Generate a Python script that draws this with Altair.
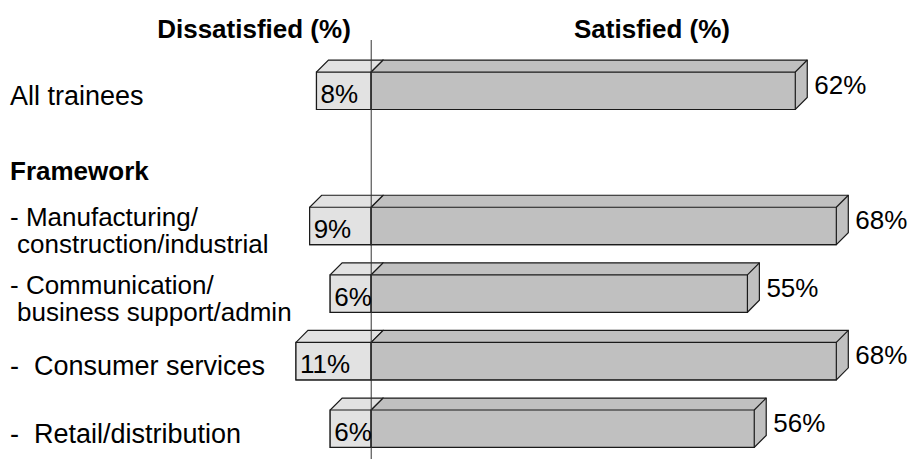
import altair as alt
import pandas as pd

# ---- data -------------------------------------------------------------
categories = [
    "All trainees",
    "- Manufacturing/\nconstruction/industrial",
    "- Communication/\nbusiness support/admin",
    "-\u00a0\u00a0Consumer services",
    "-\u00a0\u00a0Retail/distribution",
]
rows = [0, 2, 3, 4, 5]           # row slot of each bar (slot 1 holds the group heading)
dissatisfied = [8, 9, 6, 11, 6]
satisfied = [62, 68, 55, 68, 56]
group_heading = "Framework"
group_row = 1
headers = ["Dissatisfied (%)", "Satisfied (%)"]

# ---- geometry / style -------------------------------------------------
W, H = 910, 459
FONT = "Liberation Sans"
HALF = 0.277      # half the front-face thickness, in row units
DX = 1.75         # box depth along x, in percent units
DY = 0.1775       # box depth along y, in row units
EDGE = "#1a1a1a"
LIGHT = "#e2e2e2"
DARK = "#c0c0c0"

x_scale = alt.Scale(domain=[-54.27, 78.77], nice=False, zero=False)
y_scale = alt.Scale(domain=[-1.3425, 5.4475], nice=False, zero=False, reverse=True)


def X(field):
    return alt.X(field, scale=x_scale, axis=None)


def Y(field):
    return alt.Y(field, scale=y_scale, axis=None, stack=None)


def boxes(lefts, rights):
    """Silhouette points, front faces and top-right edges of 3-D bars."""
    hexa, front, edge = [], [], []
    for i, (r, a, b) in enumerate(zip(rows, lefts, rights)):
        top, bot = r - HALF, r + HALF
        # silhouette of the box, traced left to right: lower and upper edge
        for x, y, y2 in [
            (a, bot, top),
            (a + DX, bot, top - DY),
            (b, bot, top - DY),
            (b + DX, bot - DY, top - DY),
        ]:
            hexa.append({"box": i, "x": x, "y": y, "y2": y2})
        front.append({"x": a, "x2": b, "y": top, "y2": bot})
        edge.append({"x": b, "x2": b + DX, "y": top, "y2": top - DY})
    return pd.DataFrame(hexa), pd.DataFrame(front), pd.DataFrame(edge)


def box_layers(lefts, rights, fill):
    hexa, front, edge = boxes(lefts, rights)
    shell = alt.Chart(hexa).mark_area(
        fill=fill, stroke=EDGE, strokeWidth=1.2, interpolate="linear", opacity=1
    ).encode(
        x=X("x:Q"), y=Y("y:Q"), y2="y2:Q", detail="box:N",
    )
    face = alt.Chart(front).mark_rect(fill=fill, stroke=EDGE, strokeWidth=1.2).encode(
        x=X("x:Q"), x2="x2:Q", y=Y("y:Q"), y2="y2:Q",
    )
    ridge = alt.Chart(edge).mark_rule(color=EDGE, strokeWidth=1.2).encode(
        x=X("x:Q"), x2="x2:Q", y=Y("y:Q"), y2="y2:Q",
    )
    return [shell, face, ridge]


neg = [-v for v in dissatisfied]
zeros = [0] * len(rows)

table = pd.DataFrame({"row": rows, "dis": dissatisfied, "sat": satisfied, "neg": neg})
table["dis_label"] = table["dis"].astype(str) + "%"
table["sat_label"] = table["sat"].astype(str) + "%"
split = [c.split("\n") for c in categories]
table["line1"] = [s[0] for s in split]
table["line2"] = [s[1] if len(s) > 1 else "" for s in split]
single = table[table["line2"] == ""]
double = table[table["line2"] != ""]

dis_text = alt.Chart(table).mark_text(
    align="left", baseline="middle", dx=4, dy=4, fontSize=26, font=FONT, color="#000"
).encode(x=X("neg:Q"), y=Y("row:Q"), text="dis_label:N")

sat_text = alt.Chart(table).mark_text(
    align="left", baseline="middle", dx=19, dy=-5, fontSize=26, font=FONT, color="#000"
).encode(x=X("sat:Q"), y=Y("row:Q"), text="sat_label:N")

label_style = dict(align="left", baseline="middle", font=FONT, color="#000")

one_line = alt.Chart(single).mark_text(dy=6, fontSize=27, **label_style).encode(
    x=alt.value(10), y=Y("row:Q"), text="line1:N"
)
first_line = alt.Chart(double).mark_text(dy=-8, fontSize=26, **label_style).encode(
    x=alt.value(10), y=Y("row:Q"), text="line1:N"
)
second_line = alt.Chart(double).mark_text(dy=19, fontSize=26, **label_style).encode(
    x=alt.value(17), y=Y("row:Q"), text="line2:N"
)

heading = alt.Chart(pd.DataFrame({"t": [group_heading], "row": [group_row]})).mark_text(
    align="left", baseline="middle", dy=14, fontSize=26, font=FONT, fontWeight="bold",
    color="#000",
).encode(x=alt.value(10), y=Y("row:Q"), text="t:N")

head_df = pd.DataFrame({"t": headers, "px": [254, 652]})
head_text = alt.Chart(head_df).mark_text(
    align="center", baseline="middle", fontSize=26, font=FONT, fontWeight="bold",
    color="#000",
).encode(x=alt.X("px:Q", scale=None), y=alt.value(30), text="t:N")

divider = alt.Chart(pd.DataFrame({"v": [0]})).mark_rule(color="#333", strokeWidth=1).encode(
    x=X("v:Q"), y=alt.value(40), y2=alt.value(H),
)

layers = (
    box_layers(neg, zeros, LIGHT)
    + box_layers(zeros, satisfied, DARK)
    + [divider, dis_text, sat_text, one_line, first_line, second_line, heading, head_text]
)

chart = alt.layer(*layers).properties(
    width=W, height=H, padding=0, autosize=alt.AutoSizeParams(type="none"),
    background="white",
).configure_view(stroke=None)

chart.save("out.html", embed_options={"renderer": "svg", "actions": False})
